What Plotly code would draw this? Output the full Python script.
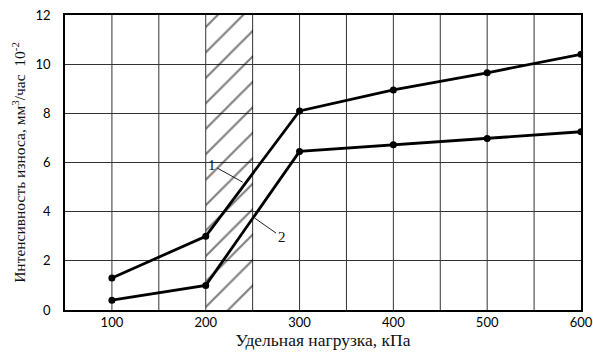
import plotly.graph_objects as go

loads = [100, 200, 300, 400, 500, 600]
wear_1 = [1.3, 3.0, 8.1, 8.95, 9.65, 10.4]
wear_2 = [0.4, 1.0, 6.45, 6.72, 6.98, 7.25]
zone_start, zone_end = 200, 250
y_max = 12
x_ticks = [100, 200, 300, 400, 500, 600]
y_ticks = [0, 2, 4, 6, 8, 10, 12]

fig = go.Figure()

# hatched zone
fig.add_trace(go.Bar(
    x=[(zone_start + zone_end) / 2], y=[y_max], width=[zone_end - zone_start],
    marker=dict(color="rgba(0,0,0,0)", line=dict(width=0),
                pattern=dict(shape="/", fgcolor="#000", bgcolor="rgba(0,0,0,0)",
                             size=18, solidity=0.12)),
    showlegend=False, hoverinfo="skip"))

for ys in (wear_1, wear_2):
    fig.add_trace(go.Scatter(
        x=loads, y=ys, mode="lines+markers",
        line=dict(color="black", width=2.8),
        marker=dict(color="black", size=7),
        showlegend=False))

tick_font = dict(family="Lato, Open Sans, sans-serif", size=13, color="#000")
serif = "Liberation Serif, Times New Roman, serif"

fig.update_xaxes(range=[50, 600], tickvals=x_ticks,
                 showgrid=False, showline=True, linecolor="black", linewidth=1.5,
                 mirror=True, ticks="", tickfont=tick_font, automargin=False,
                 title=dict(text="Удельная нагрузка, кПа",
                            font=dict(family=serif, size=17.5, color="#111"), standoff=3),
                 zeroline=False)
fig.update_yaxes(range=[0, y_max], tickvals=y_ticks,
                 showgrid=True, gridcolor="#333", gridwidth=1,
                 showline=True, linecolor="black", linewidth=1.5,
                 mirror=True, ticks="", tickfont=tick_font, ticklabelstandoff=10,
                 automargin=False,
                 title=dict(text="Интенсивность износа, мм<sup>3</sup>/час  10<sup>-2</sup>",
                            font=dict(family=serif, size=15.5, color="#111"),
                            standoff=6),
                 zeroline=False)

# vertical grid every 50
for xv in range(100, 600, 50):
    fig.add_vline(x=xv, line=dict(color="#333", width=1), layer="below")

fig.add_annotation(x=239.4, y=5.2, ax=206.4, ay=5.9, axref="x", ayref="y",
                   text="1", showarrow=True, arrowhead=0, arrowwidth=1, arrowcolor="#222",
                   font=dict(family=serif, size=15, color="#111"))
fig.add_annotation(x=252.1, y=3.74, ax=280.9, ay=2.97, axref="x", ayref="y",
                   text="2", showarrow=True, arrowhead=0, arrowwidth=1, arrowcolor="#222",
                   font=dict(family=serif, size=15, color="#111"))

fig.update_layout(width=593, height=358, margin=dict(l=65, r=12, t=15, b=48),
                  plot_bgcolor="white", paper_bgcolor="white", bargap=0)

fig.write_html("out.html", config={"displayModeBar": False},
               post_script="document.body.style.margin='0';document.body.style.overflow='hidden';")
